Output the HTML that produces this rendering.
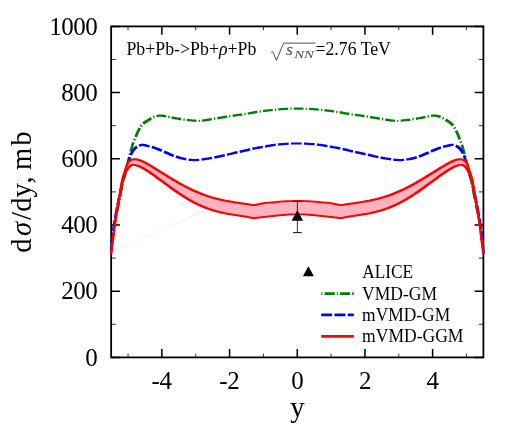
<!DOCTYPE html>
<html><head><meta charset="utf-8"><style>
html,body{margin:0;padding:0;background:#fff;}
svg{display:block;will-change:transform;font-family:"Liberation Serif",serif;}
</style></head><body>
<svg width="522" height="438" viewBox="0 0 522 438">
<rect width="522" height="438" fill="#fff"/>
<defs><clipPath id="c"><rect x="109.95" y="26.4" width="374.65" height="331.0"/></clipPath></defs>
<rect x="111.15" y="26.4" width="372.25" height="331.0" fill="none" stroke="#000" stroke-width="1.8"/>
<path d="M128.05,357.40 v-3.8 M128.05,26.40 v3.8" stroke="#000" stroke-width="0.8"/>
<path d="M161.89,357.40 v-8.3 M161.89,26.40 v8.3" stroke="#000" stroke-width="1.5"/>
<path d="M195.73,357.40 v-3.8 M195.73,26.40 v3.8" stroke="#000" stroke-width="0.8"/>
<path d="M229.57,357.40 v-8.3 M229.57,26.40 v8.3" stroke="#000" stroke-width="1.5"/>
<path d="M263.41,357.40 v-3.8 M263.41,26.40 v3.8" stroke="#000" stroke-width="0.8"/>
<path d="M297.25,357.40 v-8.3 M297.25,26.40 v8.3" stroke="#000" stroke-width="1.5"/>
<path d="M331.09,357.40 v-3.8 M331.09,26.40 v3.8" stroke="#000" stroke-width="0.8"/>
<path d="M364.93,357.40 v-8.3 M364.93,26.40 v8.3" stroke="#000" stroke-width="1.5"/>
<path d="M398.77,357.40 v-3.8 M398.77,26.40 v3.8" stroke="#000" stroke-width="0.8"/>
<path d="M432.61,357.40 v-8.3 M432.61,26.40 v8.3" stroke="#000" stroke-width="1.5"/>
<path d="M466.45,357.40 v-3.8 M466.45,26.40 v3.8" stroke="#000" stroke-width="0.8"/>
<path d="M111.15,357.40 h8.8 M483.40,357.40 h-8.8" stroke="#000" stroke-width="1.5"/>
<path d="M111.15,324.30 h4.6 M483.40,324.30 h-4.6" stroke="#000" stroke-width="0.8"/>
<path d="M111.15,291.20 h8.8 M483.40,291.20 h-8.8" stroke="#000" stroke-width="1.5"/>
<path d="M111.15,258.10 h4.6 M483.40,258.10 h-4.6" stroke="#000" stroke-width="0.8"/>
<path d="M111.15,225.00 h8.8 M483.40,225.00 h-8.8" stroke="#000" stroke-width="1.5"/>
<path d="M111.15,191.90 h4.6 M483.40,191.90 h-4.6" stroke="#000" stroke-width="0.8"/>
<path d="M111.15,158.80 h8.8 M483.40,158.80 h-8.8" stroke="#000" stroke-width="1.5"/>
<path d="M111.15,125.70 h4.6 M483.40,125.70 h-4.6" stroke="#000" stroke-width="0.8"/>
<path d="M111.15,92.60 h8.8 M483.40,92.60 h-8.8" stroke="#000" stroke-width="1.5"/>
<path d="M111.15,59.50 h4.6 M483.40,59.50 h-4.6" stroke="#000" stroke-width="0.8"/>
<path d="M111.15,26.40 h8.8 M483.40,26.40 h-8.8" stroke="#000" stroke-width="1.5"/>

<g clip-path="url(#c)" fill="none">
<path d="M111,252.5 L207,209.6" stroke="#ffd0d8" stroke-width="0.55" opacity="0.7"/>
<path d="M111.92,254.15 L112.09,252.88 L112.26,251.60 L112.43,250.32 L112.60,249.04 L112.77,247.76 L110.43,247.45 L110.26,248.73 L110.09,250.01 L109.92,251.29 L109.75,252.57 L109.58,253.85ZM113.05,245.61 L113.22,244.36 L110.88,244.05 L110.71,245.30ZM113.50,242.20 L113.66,240.99 L113.82,239.78 L113.98,238.56 L114.13,237.34 L114.28,236.12 L114.42,234.90 L114.56,233.68 L114.71,232.46 L112.39,232.19 L112.25,233.41 L112.10,234.62 L111.96,235.84 L111.80,237.05 L111.65,238.26 L111.48,239.47 L111.32,240.68 L111.16,241.90ZM114.98,230.32 L115.15,229.08 L112.81,228.76 L112.65,230.02ZM115.47,226.96 L115.66,225.76 L115.87,224.56 L116.08,223.36 L116.31,222.17 L116.54,220.97 L116.77,219.77 L117.00,218.57 L117.24,217.37 L114.82,216.89 L114.59,218.10 L114.35,219.30 L114.12,220.51 L113.90,221.72 L113.69,222.94 L113.48,224.15 L113.29,225.37 L113.10,226.60ZM117.67,215.25 L117.92,214.02 L115.50,213.52 L115.25,214.76ZM118.36,211.89 L118.60,210.69 L118.84,209.49 L119.08,208.29 L119.32,207.08 L119.56,205.88 L119.81,204.68 L120.05,203.48 L120.30,202.29 L117.87,201.79 L117.62,202.99 L117.38,204.19 L117.14,205.40 L116.90,206.60 L116.66,207.80 L116.42,209.00 L116.17,210.20 L115.93,211.40ZM120.73,200.16 L120.98,198.93 L118.56,198.43 L118.30,199.66ZM121.42,196.80 L121.66,195.60 L121.91,194.40 L122.15,193.20 L122.39,191.99 L122.63,190.79 L122.86,189.58 L123.09,188.37 L123.32,187.17 L120.91,186.71 L120.68,187.91 L120.44,189.11 L120.21,190.31 L119.97,191.51 L119.73,192.71 L119.48,193.90 L119.24,195.10 L118.99,196.30ZM123.73,185.04 L123.97,183.81 L121.55,183.33 L121.31,184.58ZM124.40,181.70 L124.67,180.52 L124.97,179.38 L125.32,178.27 L125.72,177.14 L126.09,175.92 L126.39,174.68 L126.66,173.46 L126.92,172.25 L124.48,171.72 L124.21,172.90 L123.92,174.06 L123.59,175.18 L123.20,176.29 L122.81,177.48 L122.49,178.73 L122.22,179.97 L121.97,181.19ZM127.37,170.11 L127.62,168.88 L125.19,168.37 L124.94,169.60ZM128.07,166.75 L128.32,165.56 L128.59,164.38 L128.87,163.20 L129.16,162.02 L129.47,160.86 L129.79,159.69 L130.11,158.50 L130.42,157.31 L127.94,156.66 L127.62,157.83 L127.30,159.01 L126.99,160.21 L126.69,161.41 L126.41,162.62 L126.14,163.83 L125.88,165.04 L125.63,166.24ZM130.97,155.21 L131.29,153.99 L128.81,153.34 L128.49,154.56ZM131.84,151.90 L132.17,150.73 L132.50,149.56 L132.84,148.40 L133.20,147.25 L133.58,146.11 L133.98,144.97 L134.39,143.84 L134.82,142.71 L132.29,141.75 L131.86,142.92 L131.46,144.09 L131.06,145.27 L130.69,146.46 L130.34,147.65 L130.00,148.85 L129.68,150.04 L129.36,151.23ZM135.61,140.71 L136.07,139.54 L133.54,138.53 L133.07,139.70ZM136.88,137.53 L137.34,136.41 L137.81,135.29 L138.29,134.18 L138.79,133.09 L139.31,132.02 L139.86,130.96 L140.42,129.89 L141.01,128.86 L138.52,127.44 L137.92,128.55 L137.34,129.66 L136.79,130.78 L136.26,131.93 L135.76,133.07 L135.28,134.22 L134.81,135.36 L134.35,136.51ZM142.10,127.13 L142.80,126.21 L140.49,124.37 L139.69,125.48ZM144.12,124.79 L144.96,124.07 L145.87,123.39 L146.85,122.73 L147.87,122.09 L148.91,121.44 L149.93,120.80 L150.96,120.18 L151.99,119.58 L150.61,117.08 L149.51,117.70 L148.43,118.33 L147.38,118.98 L146.34,119.63 L145.28,120.29 L144.21,120.98 L143.15,121.75 L142.11,122.60ZM153.81,118.60 L154.88,118.11 L153.89,115.58 L152.64,116.07ZM156.78,117.41 L157.87,117.10 L158.98,116.86 L160.11,116.70 L161.24,116.72 L162.37,116.89 L163.53,117.10 L164.70,117.33 L165.90,117.57 L166.37,115.16 L165.16,114.92 L163.93,114.72 L162.66,114.57 L161.35,114.52 L160.03,114.53 L158.72,114.55 L157.41,114.68 L156.11,114.92ZM168.03,117.97 L169.24,118.23 L169.76,115.79 L168.50,115.55ZM171.36,118.69 L172.57,118.94 L173.80,119.17 L175.02,119.38 L176.24,119.57 L177.46,119.76 L178.68,119.94 L179.89,120.13 L181.09,120.32 L181.47,117.94 L180.25,117.76 L179.04,117.58 L177.83,117.39 L176.63,117.19 L175.43,116.99 L174.25,116.76 L173.07,116.51 L171.89,116.25ZM183.20,120.70 L184.47,120.90 L184.85,118.52 L183.63,118.30ZM186.69,121.14 L187.93,121.25 L189.14,121.36 L190.36,121.48 L191.59,121.59 L192.82,121.69 L194.05,121.77 L195.30,121.83 L196.54,121.86 L196.61,119.70 L195.41,119.62 L194.21,119.54 L193.00,119.43 L191.79,119.32 L190.58,119.20 L189.36,119.09 L188.13,118.97 L186.93,118.85ZM198.76,121.87 L200.06,121.86 L199.96,119.67 L198.73,119.74ZM202.28,121.75 L203.53,121.64 L204.76,121.49 L205.99,121.33 L207.22,121.14 L208.44,120.95 L209.65,120.74 L210.86,120.53 L212.06,120.32 L211.65,117.93 L210.44,118.14 L209.23,118.35 L208.03,118.56 L206.83,118.77 L205.64,118.96 L204.44,119.15 L203.25,119.32 L202.06,119.47ZM214.19,119.95 L215.43,119.75 L215.05,117.37 L213.80,117.57ZM217.58,119.41 L218.79,119.21 L220.00,119.01 L221.21,118.80 L222.42,118.59 L223.62,118.39 L224.83,118.18 L226.03,117.98 L227.24,117.77 L226.85,115.39 L225.64,115.59 L224.43,115.79 L223.22,116.00 L222.01,116.20 L220.80,116.41 L219.59,116.62 L218.39,116.82 L217.18,117.03ZM229.37,117.43 L230.61,117.23 L230.25,114.87 L229.00,115.06ZM232.74,116.91 L233.95,116.74 L235.16,116.58 L236.38,116.41 L237.59,116.25 L238.80,116.09 L240.02,115.93 L241.24,115.77 L242.46,115.61 L242.13,113.26 L240.92,113.43 L239.71,113.59 L238.50,113.76 L237.28,113.92 L236.07,114.08 L234.85,114.24 L233.63,114.40 L232.41,114.56ZM244.62,115.30 L245.87,115.11 L245.49,112.73 L244.26,112.93ZM248.03,114.76 L249.25,114.55 L250.46,114.33 L251.66,114.11 L252.87,113.89 L254.07,113.67 L255.27,113.44 L256.47,113.23 L257.67,113.02 L257.27,110.63 L256.05,110.84 L254.84,111.05 L253.63,111.26 L252.42,111.48 L251.22,111.71 L250.02,111.93 L248.81,112.15 L247.62,112.37ZM259.79,112.67 L261.02,112.48 L260.70,110.14 L259.44,110.31ZM263.16,112.19 L264.37,112.03 L265.58,111.88 L266.79,111.74 L268.00,111.60 L269.22,111.47 L270.43,111.34 L271.65,111.22 L272.86,111.09 L272.64,108.81 L271.42,108.93 L270.20,109.05 L268.97,109.17 L267.75,109.30 L266.53,109.43 L265.31,109.57 L264.08,109.71 L262.86,109.86ZM275.02,110.88 L276.27,110.76 L276.06,108.48 L274.80,108.60ZM278.43,110.55 L279.64,110.44 L280.86,110.34 L282.07,110.24 L283.29,110.15 L284.50,110.06 L285.72,109.98 L286.93,109.91 L288.15,109.84 L288.06,107.66 L286.82,107.71 L285.59,107.77 L284.36,107.83 L283.13,107.91 L281.90,107.99 L280.68,108.08 L279.45,108.18 L278.22,108.28ZM290.30,109.75 L291.55,109.72 L291.51,107.57 L290.24,107.60ZM293.71,109.67 L294.93,109.66 L296.15,109.65 L297.37,109.65 L298.60,109.65 L299.82,109.66 L301.04,109.68 L302.26,109.70 L303.48,109.73 L303.52,107.58 L302.29,107.56 L301.06,107.55 L299.83,107.55 L298.60,107.55 L297.38,107.55 L296.15,107.55 L294.92,107.55 L293.69,107.55ZM305.63,109.81 L306.88,109.87 L306.98,107.68 L305.71,107.63ZM309.03,109.99 L310.25,110.08 L311.46,110.16 L312.68,110.26 L313.89,110.36 L315.11,110.46 L316.32,110.58 L317.54,110.69 L318.75,110.81 L318.97,108.53 L317.75,108.41 L316.53,108.30 L315.30,108.20 L314.07,108.10 L312.85,108.01 L311.62,107.93 L310.39,107.85 L309.16,107.78ZM320.91,111.02 L322.16,111.15 L322.39,108.86 L321.13,108.74ZM324.32,111.37 L325.53,111.50 L326.75,111.63 L327.96,111.77 L329.17,111.91 L330.38,112.06 L331.59,112.22 L332.79,112.38 L334.00,112.56 L334.33,110.21 L333.11,110.04 L331.89,109.89 L330.66,109.74 L329.44,109.60 L328.22,109.46 L327.00,109.33 L325.78,109.20 L324.55,109.07ZM336.12,112.90 L337.35,113.11 L337.76,110.72 L336.50,110.52ZM339.47,113.49 L340.68,113.71 L341.88,113.93 L343.08,114.16 L344.29,114.38 L345.50,114.59 L346.72,114.80 L347.93,115.00 L349.15,115.19 L349.53,112.82 L348.33,112.62 L347.13,112.41 L345.93,112.19 L344.73,111.97 L343.53,111.75 L342.32,111.53 L341.12,111.31 L339.91,111.09ZM351.32,115.50 L352.57,115.68 L352.90,113.33 L351.66,113.15ZM354.73,115.97 L355.94,116.13 L357.16,116.29 L358.37,116.45 L359.58,116.61 L360.79,116.78 L362.00,116.95 L363.21,117.13 L364.41,117.31 L364.77,114.95 L363.55,114.77 L362.33,114.60 L361.12,114.43 L359.90,114.27 L358.68,114.11 L357.47,113.95 L356.25,113.79 L355.04,113.63ZM366.54,117.66 L367.78,117.86 L368.18,115.48 L366.93,115.28ZM369.92,118.22 L371.12,118.43 L372.33,118.64 L373.54,118.84 L374.75,119.05 L375.96,119.25 L377.17,119.45 L378.38,119.64 L379.59,119.83 L379.98,117.46 L378.77,117.26 L377.56,117.07 L376.36,116.86 L375.15,116.66 L373.95,116.45 L372.74,116.25 L371.53,116.04 L370.32,115.84ZM381.72,120.20 L382.96,120.41 L383.38,118.02 L382.13,117.81ZM385.10,120.79 L386.31,120.99 L387.53,121.18 L388.76,121.36 L389.99,121.52 L391.23,121.66 L392.47,121.77 L393.73,121.84 L394.99,121.86 L395.05,119.70 L393.87,119.62 L392.68,119.50 L391.49,119.35 L390.30,119.18 L389.11,119.00 L387.91,118.81 L386.71,118.60 L385.51,118.39ZM397.21,121.86 L398.50,121.85 L398.41,119.67 L397.17,119.73ZM400.70,121.76 L401.93,121.67 L403.16,121.57 L404.39,121.46 L405.61,121.34 L406.82,121.23 L408.07,121.12 L409.32,120.99 L410.56,120.82 L410.16,118.43 L408.99,118.64 L407.81,118.81 L406.61,118.95 L405.39,119.06 L404.17,119.18 L402.96,119.30 L401.75,119.41 L400.54,119.52ZM412.70,120.44 L413.93,120.23 L413.56,117.86 L412.30,118.05ZM416.07,119.90 L417.29,119.72 L418.51,119.53 L419.73,119.34 L420.95,119.13 L422.18,118.89 L423.39,118.64 L424.58,118.38 L425.77,118.12 L425.27,115.69 L424.05,115.94 L422.86,116.20 L421.67,116.46 L420.49,116.71 L419.31,116.94 L418.11,117.15 L416.91,117.35 L415.71,117.54ZM427.87,117.70 L429.12,117.47 L428.65,115.05 L427.42,115.30ZM431.21,117.06 L432.36,116.85 L433.49,116.69 L434.62,116.73 L435.75,116.90 L436.85,117.15 L437.94,117.48 L439.02,117.87 L440.07,118.31 L441.14,115.78 L439.91,115.34 L438.65,114.98 L437.36,114.72 L436.05,114.57 L434.74,114.52 L433.42,114.53 L432.11,114.55 L430.83,114.68ZM441.90,119.24 L442.96,119.83 L444.37,117.34 L443.22,116.73ZM444.77,120.93 L445.80,121.57 L446.84,122.22 L447.86,122.86 L448.82,123.52 L449.72,124.21 L450.55,124.94 L451.30,125.73 L452.00,126.58 L454.36,124.83 L453.53,123.78 L452.59,122.79 L451.57,121.91 L450.51,121.13 L449.44,120.43 L448.38,119.76 L447.34,119.12 L446.29,118.47ZM453.14,128.26 L453.75,129.30 L456.25,127.92 L455.61,126.78ZM454.76,131.18 L455.30,132.23 L455.81,133.31 L456.31,134.41 L456.78,135.52 L457.25,136.63 L457.71,137.76 L458.17,138.90 L458.62,140.03 L461.16,139.02 L460.70,137.88 L460.25,136.74 L459.79,135.60 L459.32,134.45 L458.84,133.31 L458.34,132.16 L457.82,131.02 L457.27,129.88ZM459.42,142.03 L459.87,143.19 L462.40,142.25 L461.95,141.06ZM460.60,145.20 L461.00,146.34 L461.37,147.48 L461.73,148.63 L462.07,149.79 L462.40,150.96 L462.72,152.14 L463.04,153.32 L463.35,154.50 L465.82,153.86 L465.52,152.67 L465.20,151.48 L464.89,150.29 L464.57,149.09 L464.23,147.90 L463.88,146.70 L463.51,145.51 L463.13,144.33ZM463.89,156.60 L464.21,157.83 L466.69,157.16 L466.37,155.95ZM464.78,159.93 L465.10,161.10 L465.40,162.26 L465.69,163.44 L465.97,164.62 L466.23,165.81 L466.48,167.00 L466.74,168.20 L466.98,169.40 L469.42,168.89 L469.17,167.69 L468.92,166.49 L468.67,165.29 L468.41,164.08 L468.15,162.87 L467.87,161.66 L467.58,160.45 L467.26,159.25ZM467.43,171.53 L467.69,172.77 L470.13,172.23 L469.86,171.01ZM468.17,174.93 L468.48,176.18 L468.86,177.38 L469.25,178.50 L469.60,179.61 L469.89,180.76 L470.15,181.94 L470.40,183.13 L470.64,184.33 L473.05,183.86 L472.82,182.65 L472.58,181.44 L472.33,180.22 L472.07,178.99 L471.76,177.74 L471.38,176.52 L470.99,175.40 L470.64,174.29ZM471.05,186.45 L471.28,187.69 L473.69,187.23 L473.46,185.99ZM471.69,189.82 L471.92,191.03 L472.16,192.24 L472.40,193.44 L472.64,194.64 L472.89,195.84 L473.13,197.05 L473.38,198.25 L473.62,199.45 L476.05,198.95 L475.81,197.75 L475.56,196.55 L475.31,195.35 L475.07,194.15 L474.82,192.95 L474.58,191.75 L474.34,190.56 L474.10,189.36ZM474.06,201.57 L474.31,202.80 L476.74,202.31 L476.49,201.07ZM474.74,204.93 L474.98,206.13 L475.23,207.33 L475.47,208.53 L475.71,209.73 L475.95,210.94 L476.19,212.14 L476.44,213.34 L476.68,214.54 L479.11,214.04 L478.87,212.84 L478.62,211.64 L478.38,210.44 L478.13,209.24 L477.89,208.04 L477.65,206.84 L477.41,205.64 L477.17,204.44ZM477.11,216.66 L477.36,217.89 L479.78,217.41 L479.54,216.17ZM477.78,220.01 L478.01,221.21 L478.24,222.41 L478.46,223.61 L478.67,224.80 L478.88,226.00 L479.07,227.20 L479.25,228.40 L479.42,229.60 L481.76,229.29 L481.60,228.07 L481.43,226.85 L481.25,225.62 L481.06,224.40 L480.86,223.18 L480.64,221.97 L480.42,220.76 L480.20,219.55ZM479.70,231.74 L479.86,232.99 L482.17,232.72 L482.02,231.46ZM480.11,235.15 L480.25,236.37 L480.40,237.59 L480.55,238.81 L480.71,240.02 L480.87,241.24 L481.03,242.45 L481.19,243.67 L481.35,244.88 L483.69,244.57 L483.53,243.36 L483.37,242.14 L483.21,240.93 L483.05,239.71 L482.89,238.50 L482.73,237.29 L482.57,236.08 L482.43,234.87ZM481.64,247.03 L481.80,248.28 L484.14,247.97 L483.98,246.72ZM482.09,250.43 L482.25,251.67 L482.42,252.91 L482.58,254.15 L484.92,253.85 L484.75,252.60 L484.59,251.36 L484.43,250.12Z" fill="#008000" stroke="none"/>
<path d="M111.41,254.15 L111.56,253.00 L111.70,251.86 L111.85,250.72 L111.99,249.58 L112.13,248.44 L112.28,247.29 L112.42,246.15 L110.09,245.86 L109.95,247.00 L109.81,248.14 L109.66,249.28 L109.52,250.43 L109.37,251.57 L109.23,252.71 L109.09,253.85ZM112.71,243.87 L112.86,242.69 L113.00,241.51 L113.15,240.33 L113.30,239.15 L113.44,237.97 L113.58,236.78 L113.72,235.60 L113.85,234.41 L113.98,233.23 L111.67,232.97 L111.54,234.15 L111.41,235.33 L111.27,236.51 L111.12,237.68 L110.97,238.86 L110.83,240.04 L110.68,241.22 L110.53,242.40 L110.38,243.58ZM114.25,230.95 L114.39,229.78 L114.55,228.61 L114.71,227.44 L114.88,226.27 L115.06,225.10 L115.25,223.94 L115.44,222.77 L115.64,221.60 L115.84,220.43 L113.45,220.03 L113.26,221.20 L113.07,222.38 L112.88,223.56 L112.70,224.74 L112.53,225.93 L112.37,227.12 L112.22,228.30 L112.07,229.49 L111.93,230.68ZM116.24,218.17 L116.45,217.01 L116.66,215.84 L116.87,214.67 L117.09,213.51 L117.31,212.34 L117.53,211.17 L117.75,210.01 L117.97,208.84 L118.20,207.68 L115.78,207.21 L115.56,208.38 L115.34,209.55 L115.12,210.72 L114.90,211.89 L114.68,213.06 L114.47,214.23 L114.26,215.41 L114.05,216.58 L113.84,217.75ZM118.66,205.44 L118.90,204.28 L119.15,203.12 L119.40,201.96 L119.65,200.80 L119.91,199.64 L120.16,198.48 L120.42,197.32 L120.67,196.16 L120.92,194.99 L118.48,194.47 L118.23,195.63 L117.97,196.78 L117.72,197.95 L117.46,199.11 L117.21,200.27 L116.96,201.44 L116.71,202.60 L116.47,203.77 L116.23,204.94ZM121.39,192.73 L121.63,191.56 L121.85,190.38 L122.07,189.20 L122.28,188.03 L122.49,186.86 L122.70,185.69 L122.92,184.52 L123.14,183.36 L123.38,182.21 L120.95,181.72 L120.73,182.90 L120.51,184.08 L120.30,185.25 L120.09,186.42 L119.88,187.59 L119.66,188.76 L119.44,189.92 L119.20,191.07 L118.96,192.23ZM123.91,180.04 L124.25,178.98 L124.66,177.95 L125.12,176.90 L125.58,175.76 L125.98,174.59 L126.36,173.45 L126.74,172.32 L127.12,171.19 L127.50,170.06 L124.98,169.22 L124.60,170.35 L124.22,171.47 L123.84,172.60 L123.45,173.71 L123.04,174.77 L122.59,175.82 L122.12,176.96 L121.74,178.18 L121.43,179.40ZM128.22,167.87 L128.58,166.73 L128.94,165.59 L129.28,164.43 L129.60,163.25 L129.89,162.07 L130.16,160.91 L130.46,159.78 L130.79,158.66 L131.12,157.55 L128.61,156.78 L128.29,157.95 L127.98,159.12 L127.70,160.31 L127.42,161.46 L127.11,162.58 L126.78,163.69 L126.43,164.80 L126.07,165.92 L125.70,167.05ZM131.96,155.61 L132.47,154.58 L133.01,153.55 L133.57,152.55 L134.15,151.60 L134.78,150.72 L135.45,149.91 L136.17,149.18 L136.96,148.53 L137.84,147.93 L136.38,145.46 L135.26,146.14 L134.19,146.97 L133.24,147.93 L132.42,148.97 L131.70,150.06 L131.08,151.14 L130.50,152.23 L129.95,153.32 L129.43,154.44ZM139.70,146.91 L140.65,146.48 L141.60,146.14 L142.57,145.98 L143.58,146.22 L144.65,146.51 L145.78,146.82 L146.96,147.10 L148.12,147.36 L149.27,147.64 L149.87,145.18 L148.70,144.91 L147.55,144.63 L146.42,144.34 L145.25,144.05 L143.99,143.83 L142.64,143.81 L141.25,143.78 L139.89,143.97 L138.61,144.38ZM151.45,148.23 L152.57,148.56 L153.67,148.92 L154.75,149.31 L155.82,149.73 L156.90,150.17 L157.98,150.63 L159.07,151.09 L160.17,151.55 L161.25,152.02 L162.35,149.49 L161.24,149.02 L160.14,148.56 L159.05,148.10 L157.94,147.64 L156.81,147.20 L155.65,146.78 L154.48,146.40 L153.31,146.06 L152.14,145.74ZM163.35,152.94 L164.44,153.42 L165.53,153.90 L166.63,154.37 L167.73,154.84 L168.82,155.30 L169.92,155.77 L171.03,156.23 L172.15,156.68 L173.29,157.10 L174.24,154.57 L173.15,154.14 L172.07,153.70 L170.99,153.24 L169.90,152.77 L168.81,152.30 L167.72,151.84 L166.63,151.37 L165.55,150.89 L164.46,150.41ZM175.49,157.88 L176.63,158.26 L177.79,158.62 L178.95,158.96 L180.13,159.28 L181.31,159.56 L182.50,159.82 L183.70,160.05 L184.89,160.26 L186.09,160.45 L186.47,158.07 L185.32,157.86 L184.18,157.63 L183.04,157.37 L181.92,157.09 L180.80,156.79 L179.69,156.46 L178.58,156.11 L177.47,155.74 L176.36,155.35ZM188.40,160.76 L189.59,160.90 L190.80,161.02 L192.01,161.11 L193.23,161.16 L194.46,161.16 L195.69,161.16 L196.92,161.15 L198.14,161.09 L199.35,160.98 L199.08,158.66 L197.93,158.81 L196.78,158.94 L195.64,159.02 L194.49,159.03 L193.34,158.96 L192.19,158.86 L191.03,158.73 L189.88,158.58 L188.71,158.42ZM201.65,160.70 L202.84,160.54 L204.02,160.38 L205.20,160.21 L206.38,160.04 L207.56,159.87 L208.74,159.69 L209.93,159.51 L211.11,159.32 L212.29,159.12 L211.87,156.72 L210.70,156.93 L209.54,157.13 L208.37,157.32 L207.20,157.50 L206.03,157.68 L204.86,157.86 L203.69,158.03 L202.52,158.20 L201.34,158.36ZM214.57,158.71 L215.75,158.49 L216.92,158.26 L218.10,158.01 L219.27,157.76 L220.43,157.50 L221.60,157.23 L222.76,156.96 L223.92,156.69 L225.07,156.42 L224.49,153.96 L223.34,154.23 L222.18,154.51 L221.03,154.78 L219.87,155.04 L218.72,155.31 L217.57,155.57 L216.41,155.82 L215.26,156.07 L214.11,156.30ZM227.31,155.89 L228.46,155.62 L229.62,155.35 L230.77,155.09 L231.93,154.83 L233.09,154.57 L234.25,154.32 L235.41,154.06 L236.57,153.81 L237.73,153.55 L237.20,151.11 L236.04,151.36 L234.87,151.62 L233.71,151.87 L232.55,152.13 L231.39,152.39 L230.23,152.64 L229.06,152.90 L227.90,153.17 L226.74,153.43ZM239.98,153.06 L241.14,152.80 L242.31,152.55 L243.47,152.29 L244.63,152.03 L245.80,151.76 L246.97,151.49 L248.14,151.20 L249.30,150.90 L250.44,150.59 L249.80,148.12 L248.64,148.42 L247.50,148.72 L246.36,149.02 L245.22,149.30 L244.07,149.58 L242.92,149.84 L241.76,150.10 L240.60,150.36 L239.44,150.62ZM252.62,150.04 L253.76,149.79 L254.91,149.55 L256.07,149.33 L257.23,149.12 L258.40,148.92 L259.57,148.73 L260.74,148.53 L261.92,148.33 L263.10,148.13 L262.67,145.73 L261.51,145.94 L260.34,146.14 L259.17,146.34 L258.00,146.54 L256.82,146.73 L255.64,146.93 L254.46,147.14 L253.27,147.36 L252.09,147.60ZM265.37,147.72 L266.54,147.50 L267.71,147.28 L268.87,147.06 L270.04,146.84 L271.20,146.63 L272.36,146.43 L273.52,146.25 L274.67,146.07 L275.84,145.91 L275.56,143.59 L274.37,143.73 L273.17,143.89 L271.98,144.06 L270.79,144.25 L269.61,144.45 L268.43,144.65 L267.26,144.87 L266.09,145.09 L264.92,145.31ZM278.10,145.65 L279.28,145.53 L280.45,145.41 L281.63,145.31 L282.81,145.21 L283.99,145.12 L285.17,145.03 L286.35,144.95 L287.54,144.87 L288.72,144.79 L288.59,142.57 L287.40,142.64 L286.21,142.72 L285.02,142.79 L283.83,142.88 L282.64,142.96 L281.45,143.05 L280.25,143.15 L279.06,143.25 L277.87,143.36ZM291.00,144.65 L292.17,144.60 L293.35,144.55 L294.53,144.52 L295.71,144.51 L296.89,144.50 L298.08,144.50 L299.26,144.51 L300.44,144.53 L301.62,144.57 L301.68,142.42 L300.48,142.40 L299.28,142.40 L298.08,142.40 L296.89,142.40 L295.70,142.40 L294.50,142.40 L293.30,142.41 L292.10,142.43 L290.90,142.47ZM303.90,144.67 L305.07,144.74 L306.25,144.82 L307.43,144.90 L308.62,144.98 L309.80,145.06 L310.98,145.15 L312.16,145.25 L313.34,145.35 L314.52,145.46 L314.72,143.19 L313.53,143.09 L312.34,143.00 L311.15,142.91 L309.96,142.83 L308.77,142.75 L307.58,142.67 L306.39,142.60 L305.20,142.53 L304.00,142.48ZM316.79,145.69 L317.96,145.82 L319.13,145.97 L320.29,146.14 L321.45,146.32 L322.61,146.51 L323.77,146.72 L324.93,146.93 L326.09,147.15 L327.26,147.37 L327.71,144.96 L326.54,144.74 L325.36,144.53 L324.18,144.33 L323.00,144.13 L321.81,143.95 L320.61,143.79 L319.42,143.65 L318.22,143.52 L317.03,143.39ZM329.52,147.79 L330.69,148.01 L331.87,148.21 L333.05,148.41 L334.22,148.61 L335.40,148.80 L336.57,149.00 L337.73,149.21 L338.89,149.42 L340.05,149.64 L340.51,147.23 L339.33,147.02 L338.15,146.81 L336.97,146.62 L335.80,146.42 L334.63,146.22 L333.46,146.02 L332.29,145.82 L331.13,145.60 L329.97,145.38ZM342.26,150.13 L343.38,150.41 L344.52,150.71 L345.66,151.02 L346.83,151.32 L347.99,151.60 L349.17,151.87 L350.33,152.13 L351.50,152.39 L352.66,152.65 L353.20,150.20 L352.04,149.95 L350.89,149.68 L349.74,149.41 L348.59,149.13 L347.46,148.84 L346.32,148.54 L345.17,148.23 L344.00,147.94 L342.81,147.68ZM354.91,153.15 L356.07,153.40 L357.23,153.65 L358.39,153.91 L359.55,154.16 L360.71,154.42 L361.87,154.68 L363.03,154.93 L364.19,155.19 L365.34,155.46 L365.90,153.01 L364.74,152.75 L363.58,152.49 L362.41,152.23 L361.25,151.98 L360.09,151.72 L358.93,151.47 L357.77,151.21 L356.61,150.96 L355.44,150.70ZM367.58,155.98 L368.73,156.25 L369.89,156.53 L371.05,156.80 L372.21,157.07 L373.37,157.34 L374.53,157.60 L375.70,157.86 L376.87,158.11 L378.04,158.35 L378.55,155.92 L377.39,155.67 L376.24,155.41 L375.09,155.15 L373.93,154.88 L372.78,154.61 L371.63,154.34 L370.47,154.07 L369.31,153.79 L368.15,153.52ZM380.33,158.78 L381.51,159.00 L382.68,159.20 L383.87,159.39 L385.05,159.58 L386.23,159.76 L387.41,159.94 L388.59,160.11 L389.77,160.28 L390.95,160.44 L391.28,158.10 L390.11,157.93 L388.94,157.75 L387.76,157.58 L386.60,157.39 L385.43,157.21 L384.26,157.01 L383.10,156.81 L381.94,156.60 L380.78,156.38ZM393.24,160.75 L394.43,160.90 L395.63,161.03 L396.84,161.12 L398.08,161.16 L399.30,161.16 L400.53,161.17 L401.76,161.14 L402.98,161.08 L404.19,160.98 L403.93,158.67 L402.77,158.81 L401.62,158.93 L400.47,159.01 L399.32,159.04 L398.17,158.97 L397.03,158.86 L395.88,158.72 L394.72,158.57 L393.55,158.41ZM406.50,160.71 L407.69,160.55 L408.89,160.37 L410.08,160.18 L411.28,159.96 L412.47,159.72 L413.66,159.45 L414.84,159.15 L416.01,158.83 L417.17,158.48 L416.37,155.96 L415.26,156.32 L414.14,156.66 L413.03,156.98 L411.91,157.27 L410.78,157.53 L409.64,157.77 L408.49,157.99 L407.34,158.19 L406.18,158.36ZM419.39,157.75 L420.53,157.35 L421.67,156.93 L422.80,156.50 L423.92,156.05 L425.02,155.59 L426.12,155.12 L427.21,154.65 L428.31,154.18 L429.41,153.71 L428.30,151.18 L427.22,151.65 L426.13,152.12 L425.03,152.58 L423.94,153.05 L422.86,153.51 L421.78,153.97 L420.70,154.40 L419.61,154.82 L418.50,155.22ZM431.52,152.78 L432.60,152.30 L433.68,151.83 L434.77,151.37 L435.86,150.91 L436.95,150.45 L438.03,149.99 L439.11,149.56 L440.18,149.15 L441.27,148.77 L440.48,146.26 L439.31,146.63 L438.15,147.03 L437.01,147.46 L435.89,147.91 L434.79,148.37 L433.70,148.84 L432.60,149.30 L431.49,149.77 L430.40,150.25ZM443.42,148.12 L444.55,147.82 L445.69,147.53 L446.84,147.25 L448.01,146.99 L449.18,146.69 L450.28,146.39 L451.33,146.12 L452.32,145.98 L453.28,146.26 L453.81,143.83 L452.41,143.80 L451.04,143.79 L449.74,143.94 L448.54,144.22 L447.40,144.52 L446.26,144.80 L445.10,145.07 L443.93,145.35 L442.75,145.64ZM455.13,147.07 L456.09,147.59 L457.02,148.16 L457.86,148.78 L458.62,149.46 L459.33,150.22 L459.98,151.06 L460.59,151.97 L461.16,152.95 L461.71,153.96 L464.23,152.67 L463.66,151.58 L463.06,150.49 L462.38,149.40 L461.60,148.34 L460.70,147.35 L459.68,146.46 L458.57,145.72 L457.45,145.09 L456.29,144.54ZM462.71,155.94 L463.15,156.93 L463.51,157.98 L463.84,159.12 L464.16,160.23 L464.45,161.37 L464.73,162.54 L465.03,163.72 L465.35,164.89 L465.70,166.04 L468.21,165.25 L467.86,164.13 L467.52,163.02 L467.20,161.91 L466.91,160.77 L466.64,159.60 L466.34,158.41 L466.01,157.26 L465.68,156.04 L465.24,154.82ZM466.41,168.25 L466.78,169.38 L467.15,170.51 L467.53,171.64 L467.91,172.77 L468.29,173.90 L468.68,175.05 L469.10,176.23 L469.57,177.33 L470.01,178.36 L472.54,177.45 L472.10,176.26 L471.64,175.19 L471.21,174.14 L470.81,173.04 L470.43,171.92 L470.05,170.80 L469.67,169.67 L469.30,168.55 L468.92,167.42ZM470.69,180.41 L470.97,181.53 L471.22,182.67 L471.45,183.83 L471.67,184.99 L471.88,186.15 L472.09,187.32 L472.30,188.50 L472.52,189.67 L472.74,190.85 L475.15,190.38 L474.93,189.22 L474.71,188.06 L474.49,186.89 L474.28,185.72 L474.07,184.55 L473.86,183.37 L473.64,182.19 L473.41,181.00 L473.16,179.80ZM473.19,193.12 L473.43,194.29 L473.68,195.46 L473.93,196.62 L474.18,197.79 L474.44,198.95 L474.70,200.11 L474.95,201.27 L475.20,202.42 L475.45,203.58 L477.89,203.07 L477.64,201.90 L477.39,200.74 L477.14,199.57 L476.88,198.41 L476.63,197.25 L476.37,196.09 L476.12,194.93 L475.87,193.77 L475.62,192.61ZM475.92,205.82 L476.16,206.98 L476.39,208.14 L476.62,209.31 L476.84,210.47 L477.06,211.64 L477.28,212.81 L477.50,213.97 L477.71,215.14 L477.93,216.31 L480.33,215.87 L480.12,214.70 L479.90,213.53 L479.69,212.36 L479.47,211.19 L479.25,210.02 L479.03,208.85 L478.81,207.68 L478.58,206.50 L478.35,205.33ZM478.33,218.56 L478.54,219.73 L478.74,220.90 L478.94,222.07 L479.13,223.24 L479.32,224.40 L479.51,225.57 L479.69,226.74 L479.86,227.90 L480.01,229.07 L482.34,228.78 L482.20,227.59 L482.04,226.40 L481.87,225.22 L481.69,224.03 L481.51,222.85 L481.32,221.67 L481.13,220.50 L480.93,219.32 L480.73,218.15ZM480.30,231.34 L480.44,232.52 L480.57,233.70 L480.70,234.88 L480.84,236.07 L480.97,237.25 L481.11,238.44 L481.26,239.62 L481.41,240.80 L481.55,241.98 L483.88,241.69 L483.73,240.51 L483.59,239.33 L483.44,238.15 L483.29,236.98 L483.15,235.80 L483.01,234.62 L482.88,233.44 L482.75,232.26 L482.61,231.07ZM481.84,244.26 L482.00,245.50 L482.15,246.73 L482.31,247.97 L482.46,249.21 L482.62,250.44 L482.77,251.68 L482.93,252.91 L483.09,254.15 L485.41,253.85 L485.26,252.62 L485.10,251.38 L484.95,250.15 L484.79,248.91 L484.64,247.68 L484.48,246.44 L484.32,245.21 L484.17,243.97Z" fill="#0000ff" stroke="none"/>
<path d="M110.85,254.00 C111.19,251.42 112.28,243.37 112.90,238.50 C113.53,233.63 113.88,229.98 114.60,224.80 C115.32,219.62 116.36,212.88 117.25,207.40 C118.14,201.92 119.13,196.47 119.95,191.90 C120.77,187.33 121.50,182.95 122.15,180.00 C122.80,177.05 123.01,176.80 123.85,174.20 C124.69,171.60 126.17,166.67 127.20,164.40 C128.22,162.13 128.80,161.47 130.00,160.60 C131.20,159.73 132.73,159.23 134.40,159.20 C136.07,159.17 138.00,159.70 140.00,160.40 C142.00,161.10 144.33,162.31 146.40,163.40 C148.47,164.49 150.40,165.72 152.40,166.92 C154.40,168.12 156.40,169.36 158.40,170.60 C160.40,171.84 162.40,173.09 164.40,174.33 C166.40,175.57 168.40,176.82 170.40,178.03 C172.40,179.24 174.40,180.44 176.40,181.60 C178.40,182.76 180.40,183.89 182.40,184.97 C184.40,186.05 186.40,187.10 188.40,188.10 C190.40,189.10 192.40,190.05 194.40,190.95 C196.40,191.85 198.40,192.69 200.40,193.48 C202.40,194.27 204.40,195.00 206.40,195.69 C208.40,196.38 210.40,197.01 212.40,197.59 C214.40,198.17 216.40,198.69 218.40,199.18 C220.40,199.67 222.40,200.10 224.40,200.51 C226.40,200.92 228.40,201.28 230.40,201.62 C232.40,201.97 234.40,202.27 236.40,202.58 C238.40,202.89 240.40,203.17 242.40,203.46 C244.40,203.75 246.53,204.05 248.40,204.34 C250.27,204.63 252.73,205.06 253.60,205.20 C255.53,204.83 262.13,203.45 265.20,203.00 C268.27,202.55 269.48,202.73 272.00,202.50 C274.52,202.27 277.30,201.83 280.30,201.60 C283.30,201.37 287.18,201.20 290.00,201.10 C292.82,201.00 294.83,201.00 297.25,201.00 C299.67,201.00 301.68,201.00 304.50,201.10 C307.32,201.20 311.20,201.37 314.20,201.60 C317.20,201.83 319.98,202.27 322.50,202.50 C325.02,202.73 326.23,202.55 329.30,203.00 C332.37,203.45 338.97,204.83 340.90,205.20 C341.77,205.06 344.23,204.63 346.10,204.34 C347.97,204.05 350.10,203.75 352.10,203.46 C354.10,203.17 356.10,202.89 358.10,202.58 C360.10,202.27 362.10,201.97 364.10,201.62 C366.10,201.28 368.10,200.92 370.10,200.51 C372.10,200.10 374.10,199.67 376.10,199.18 C378.10,198.69 380.10,198.17 382.10,197.59 C384.10,197.01 386.10,196.38 388.10,195.69 C390.10,195.00 392.10,194.27 394.10,193.48 C396.10,192.69 398.10,191.85 400.10,190.95 C402.10,190.05 404.10,189.10 406.10,188.10 C408.10,187.10 410.10,186.05 412.10,184.97 C414.10,183.89 416.10,182.76 418.10,181.60 C420.10,180.44 422.10,179.24 424.10,178.03 C426.10,176.82 428.10,175.57 430.10,174.33 C432.10,173.09 434.10,171.84 436.10,170.60 C438.10,169.36 440.10,168.12 442.10,166.92 C444.10,165.72 446.03,164.49 448.10,163.40 C450.17,162.31 452.50,161.10 454.50,160.40 C456.50,159.70 458.43,159.17 460.10,159.20 C461.77,159.23 463.30,159.73 464.50,160.60 C465.70,161.47 466.28,162.13 467.30,164.40 C468.32,166.67 469.81,171.60 470.65,174.20 C471.49,176.80 471.70,177.05 472.35,180.00 C473.00,182.95 473.73,187.33 474.55,191.90 C475.37,196.47 476.36,201.92 477.25,207.40 C478.14,212.88 479.17,219.62 479.90,224.80 C480.62,229.98 480.98,233.63 481.60,238.50 C482.23,243.37 483.31,251.42 483.65,254.00 L483.25,254.00 C482.91,251.42 481.82,243.37 481.20,238.50 C480.57,233.63 480.24,229.98 479.50,224.80 C478.76,219.62 477.69,212.88 476.75,207.40 C475.81,201.92 474.73,196.47 473.85,191.90 C472.97,187.33 472.13,182.95 471.45,180.00 C470.77,177.05 470.56,176.10 469.75,174.20 C468.94,172.30 467.46,169.93 466.60,168.60 C465.74,167.27 465.38,166.82 464.60,166.20 C463.82,165.58 462.92,165.05 461.90,164.90 C460.88,164.75 459.73,165.00 458.50,165.30 C457.27,165.60 455.93,166.07 454.50,166.70 C453.07,167.33 451.67,168.04 449.90,169.10 C448.13,170.16 445.90,171.67 443.90,173.03 C441.90,174.39 439.90,175.84 437.90,177.28 C435.90,178.72 433.90,180.23 431.90,181.70 C429.90,183.17 427.90,184.67 425.90,186.12 C423.90,187.57 421.90,189.02 419.90,190.42 C417.90,191.82 415.90,193.19 413.90,194.50 C411.90,195.81 409.90,197.09 407.90,198.29 C405.90,199.49 403.90,200.64 401.90,201.71 C399.90,202.78 397.90,203.79 395.90,204.73 C393.90,205.67 391.90,206.53 389.90,207.33 C387.90,208.13 385.90,208.86 383.90,209.52 C381.90,210.19 379.90,210.78 377.90,211.32 C375.90,211.86 373.90,212.33 371.90,212.77 C369.90,213.21 367.90,213.59 365.90,213.95 C363.90,214.31 361.90,214.62 359.90,214.94 C357.90,215.26 355.90,215.54 353.90,215.86 C351.90,216.18 350.07,216.44 347.90,216.84 C345.73,217.24 342.07,218.01 340.90,218.25 C338.97,217.97 332.37,217.15 329.30,216.80 C326.23,216.45 325.02,216.37 322.50,216.10 C319.98,215.83 317.20,215.47 314.20,215.20 C311.20,214.93 307.32,214.63 304.50,214.50 C301.68,214.37 299.67,214.40 297.25,214.40 C294.83,214.40 292.82,214.37 290.00,214.50 C287.18,214.63 283.30,214.93 280.30,215.20 C277.30,215.47 274.52,215.83 272.00,216.10 C269.48,216.37 268.27,216.45 265.20,216.80 C262.13,217.15 255.53,217.97 253.60,218.20 C252.43,218.01 248.77,217.24 246.60,216.84 C244.43,216.44 242.60,216.18 240.60,215.86 C238.60,215.54 236.60,215.26 234.60,214.94 C232.60,214.62 230.60,214.31 228.60,213.95 C226.60,213.59 224.60,213.21 222.60,212.77 C220.60,212.33 218.60,211.86 216.60,211.32 C214.60,210.78 212.60,210.19 210.60,209.52 C208.60,208.86 206.60,208.13 204.60,207.33 C202.60,206.53 200.60,205.67 198.60,204.73 C196.60,203.79 194.60,202.78 192.60,201.71 C190.60,200.64 188.60,199.49 186.60,198.29 C184.60,197.09 182.60,195.81 180.60,194.50 C178.60,193.19 176.60,191.82 174.60,190.42 C172.60,189.02 170.60,187.57 168.60,186.12 C166.60,184.67 164.60,183.17 162.60,181.70 C160.60,180.23 158.60,178.72 156.60,177.28 C154.60,175.84 152.60,174.39 150.60,173.03 C148.60,171.67 146.37,170.16 144.60,169.10 C142.83,168.04 141.43,167.33 140.00,166.70 C138.57,166.07 137.23,165.60 136.00,165.30 C134.77,165.00 133.62,164.75 132.60,164.90 C131.58,165.05 130.68,165.58 129.90,166.20 C129.12,166.82 128.76,167.27 127.90,168.60 C127.04,169.93 125.56,172.30 124.75,174.20 C123.94,176.10 123.73,177.05 123.05,180.00 C122.37,182.95 121.53,187.33 120.65,191.90 C119.77,196.47 118.69,201.92 117.75,207.40 C116.81,212.88 115.74,219.62 115.00,224.80 C114.26,229.98 113.92,233.63 113.30,238.50 C112.67,243.37 111.59,251.42 111.25,254.00 Z" fill="#ffb3c0" stroke="none"/>
<path d="M111.85,254.13 L112.02,252.85 L112.20,251.56 L112.37,250.27 L112.54,248.98 L112.71,247.70 L112.88,246.41 L113.05,245.12 L113.22,243.83 L113.39,242.54 L113.56,241.26 L113.73,239.97 L113.89,238.68 L114.05,237.38 L114.21,236.09 L114.36,234.80 L114.51,233.51 L114.67,232.22 L114.82,230.93 L114.98,229.64 L115.14,228.36 L115.31,227.08 L115.49,225.79 L115.67,224.51 L115.85,223.23 L116.04,221.95 L116.23,220.66 L116.42,219.38 L116.61,218.10 L116.81,216.82 L117.01,215.53 L117.20,214.25 L117.40,212.97 L117.61,211.69 L117.81,210.41 L118.02,209.13 L118.22,207.84 L118.44,206.57 L118.65,205.29 L118.87,204.01 L119.09,202.73 L119.31,201.45 L119.53,200.18 L119.76,198.90 L119.99,197.62 L120.22,196.34 L120.44,195.06 L120.67,193.79 L120.90,192.51 L121.13,191.23 L121.36,189.95 L121.58,188.67 L121.81,187.39 L122.04,186.11 L122.27,184.84 L122.51,183.57 L122.75,182.30 L123.02,181.04 L123.30,179.79 L123.61,178.57 L123.98,177.38 L124.39,176.17 L124.81,174.93 L125.20,173.69 L125.59,172.45 L125.99,171.21 L126.39,169.98 L126.80,168.76 L127.22,167.55 L127.66,166.35 L128.14,165.20 L128.68,164.10 L129.27,163.10 L129.93,162.30 L130.75,161.61 L131.66,161.01 L132.66,160.55 L133.75,160.24 L134.90,160.15 L136.06,160.38 L137.24,160.69 L138.42,161.06 L139.60,161.48 L140.75,161.95 L141.89,162.47 L143.03,163.02 L144.17,163.60 L145.31,164.20 L146.43,164.80 L147.54,165.43 L148.64,166.09 L149.74,166.75 L150.85,167.43 L151.97,168.10 L153.07,168.77 L154.18,169.45 L155.28,170.13 L156.38,170.81 L157.49,171.49 L158.59,172.18 L159.69,172.86 L160.79,173.55 L161.90,174.23 L163.00,174.92 L164.11,175.61 L165.21,176.29 L166.31,176.98 L167.42,177.66 L168.53,178.34 L169.65,179.02 L170.76,179.69 L171.88,180.36 L173.00,181.03 L174.12,181.69 L175.25,182.35 L176.38,183.00 L177.51,183.65 L178.64,184.29 L179.78,184.93 L180.93,185.56 L182.08,186.18 L183.23,186.80 L184.38,187.41 L185.54,188.01 L186.71,188.60 L187.88,189.19 L189.05,189.76 L190.23,190.33 L191.41,190.89 L192.60,191.44 L193.79,191.98 L194.99,192.51 L196.19,193.03 L197.40,193.53 L198.61,194.03 L199.83,194.51 L201.05,194.98 L202.28,195.44 L203.51,195.89 L204.74,196.33 L205.98,196.76 L207.23,197.17 L208.47,197.57 L209.72,197.96 L210.98,198.34 L212.24,198.70 L213.50,199.05 L214.76,199.39 L216.03,199.72 L217.30,200.03 L218.57,200.34 L219.85,200.63 L221.13,200.91 L222.40,201.19 L223.68,201.45 L224.97,201.70 L226.25,201.94 L227.54,202.18 L228.82,202.40 L230.10,202.62 L231.39,202.84 L232.68,203.04 L233.97,203.24 L235.25,203.44 L236.54,203.64 L237.83,203.83 L239.12,204.01 L240.40,204.20 L241.69,204.39 L242.97,204.57 L244.26,204.76 L245.54,204.95 L246.83,205.14 L248.10,205.33 L249.38,205.54 L250.65,205.75 L251.93,205.97 L253.35,206.10 L254.87,206.03 L256.14,205.78 L257.42,205.52 L258.69,205.27 L259.96,205.01 L261.23,204.77 L262.50,204.52 L263.77,204.29 L265.02,204.07 L266.27,203.87 L267.52,203.71 L268.79,203.61 L270.08,203.56 L271.41,203.51 L272.73,203.42 L274.04,203.29 L275.33,203.14 L276.62,202.98 L277.90,202.83 L279.18,202.68 L280.46,202.56 L281.74,202.46 L283.03,202.37 L284.32,202.29 L285.61,202.22 L286.90,202.16 L288.20,202.10 L289.49,202.05 L290.78,202.00 L292.08,201.96 L293.37,201.93 L294.66,201.91 L295.95,201.90 L297.25,201.90 L298.55,201.90 L299.84,201.91 L301.13,201.93 L302.42,201.96 L303.72,202.00 L305.01,202.05 L306.30,202.10 L307.60,202.16 L308.89,202.22 L310.18,202.29 L311.47,202.37 L312.76,202.46 L314.04,202.56 L315.32,202.68 L316.60,202.83 L317.88,202.98 L319.17,203.14 L320.46,203.29 L321.77,203.42 L323.09,203.51 L324.42,203.56 L325.71,203.61 L326.98,203.71 L328.23,203.87 L329.48,204.07 L330.73,204.29 L332.00,204.52 L333.27,204.77 L334.54,205.01 L335.81,205.27 L337.08,205.52 L338.36,205.78 L339.63,206.03 L341.15,206.10 L342.57,205.97 L343.85,205.75 L345.12,205.54 L346.40,205.33 L347.67,205.14 L348.96,204.95 L350.24,204.76 L351.53,204.57 L352.81,204.39 L354.10,204.20 L355.38,204.01 L356.67,203.83 L357.96,203.64 L359.25,203.44 L360.53,203.24 L361.82,203.04 L363.11,202.84 L364.40,202.62 L365.68,202.40 L366.96,202.18 L368.25,201.94 L369.53,201.70 L370.82,201.45 L372.10,201.19 L373.37,200.91 L374.65,200.63 L375.93,200.34 L377.20,200.03 L378.47,199.72 L379.74,199.39 L381.00,199.05 L382.26,198.70 L383.52,198.34 L384.78,197.96 L386.03,197.57 L387.27,197.17 L388.52,196.76 L389.76,196.33 L390.99,195.89 L392.22,195.44 L393.45,194.98 L394.67,194.51 L395.89,194.03 L397.10,193.53 L398.31,193.03 L399.51,192.51 L400.71,191.98 L401.90,191.44 L403.09,190.89 L404.27,190.33 L405.45,189.76 L406.62,189.19 L407.79,188.60 L408.96,188.01 L410.12,187.41 L411.27,186.80 L412.42,186.18 L413.57,185.56 L414.72,184.93 L415.86,184.29 L416.99,183.65 L418.12,183.00 L419.25,182.35 L420.38,181.69 L421.50,181.03 L422.62,180.36 L423.74,179.69 L424.85,179.02 L425.97,178.34 L427.08,177.66 L428.19,176.98 L429.29,176.29 L430.39,175.61 L431.50,174.92 L432.60,174.23 L433.71,173.55 L434.81,172.86 L435.91,172.18 L437.01,171.49 L438.12,170.81 L439.22,170.13 L440.32,169.45 L441.43,168.77 L442.53,168.10 L443.65,167.43 L444.76,166.75 L445.86,166.09 L446.96,165.43 L448.07,164.80 L449.19,164.20 L450.33,163.60 L451.47,163.02 L452.61,162.47 L453.75,161.95 L454.90,161.48 L456.08,161.06 L457.26,160.69 L458.44,160.38 L459.60,160.15 L460.75,160.24 L461.84,160.55 L462.84,161.01 L463.75,161.61 L464.57,162.30 L465.23,163.10 L465.82,164.10 L466.36,165.20 L466.84,166.35 L467.28,167.55 L467.70,168.76 L468.11,169.98 L468.51,171.21 L468.91,172.45 L469.30,173.69 L469.69,174.93 L470.11,176.17 L470.52,177.38 L470.89,178.57 L471.20,179.79 L471.48,181.04 L471.75,182.30 L471.99,183.57 L472.23,184.84 L472.46,186.11 L472.69,187.39 L472.92,188.67 L473.14,189.95 L473.37,191.23 L473.60,192.51 L473.83,193.79 L474.06,195.06 L474.28,196.34 L474.51,197.62 L474.74,198.90 L474.97,200.18 L475.19,201.45 L475.41,202.73 L475.63,204.01 L475.85,205.29 L476.06,206.57 L476.28,207.84 L476.48,209.13 L476.69,210.41 L476.89,211.69 L477.10,212.97 L477.30,214.25 L477.49,215.53 L477.69,216.82 L477.89,218.10 L478.08,219.38 L478.27,220.66 L478.46,221.95 L478.65,223.23 L478.83,224.51 L479.01,225.79 L479.19,227.08 L479.36,228.36 L479.52,229.64 L479.68,230.93 L479.83,232.22 L479.99,233.51 L480.14,234.80 L480.29,236.09 L480.45,237.38 L480.61,238.68 L480.77,239.97 L480.94,241.26 L481.11,242.54 L481.28,243.83 L481.45,245.12 L481.62,246.41 L481.79,247.70 L481.96,248.98 L482.13,250.27 L482.30,251.56 L482.48,252.85 L482.65,254.13 L484.65,253.87 L484.48,252.58 L484.31,251.29 L484.14,250.00 L483.97,248.72 L483.79,247.43 L483.62,246.14 L483.45,244.85 L483.28,243.57 L483.11,242.28 L482.94,240.99 L482.77,239.71 L482.60,238.42 L482.44,237.14 L482.28,235.85 L482.12,234.56 L481.97,233.27 L481.82,231.98 L481.67,230.69 L481.51,229.40 L481.35,228.11 L481.19,226.81 L481.02,225.52 L480.85,224.23 L480.67,222.94 L480.48,221.65 L480.29,220.37 L480.10,219.08 L479.91,217.79 L479.72,216.51 L479.52,215.22 L479.33,213.94 L479.13,212.65 L478.93,211.37 L478.72,210.08 L478.52,208.80 L478.31,207.51 L478.11,206.23 L477.89,204.95 L477.68,203.66 L477.46,202.38 L477.24,201.10 L477.02,199.82 L476.79,198.54 L476.57,197.26 L476.34,195.98 L476.11,194.70 L475.88,193.42 L475.65,192.14 L475.43,190.86 L475.20,189.58 L474.97,188.31 L474.75,187.03 L474.52,185.75 L474.29,184.46 L474.06,183.18 L473.82,181.89 L473.57,180.61 L473.30,179.32 L473.01,178.02 L472.67,176.71 L472.27,175.45 L471.85,174.22 L471.45,173.00 L471.06,171.76 L470.67,170.52 L470.27,169.28 L469.87,168.03 L469.45,166.79 L469.01,165.54 L468.53,164.28 L467.98,163.02 L467.32,161.74 L466.37,160.51 L465.19,159.55 L463.85,158.84 L462.41,158.42 L460.96,158.27 L459.51,158.27 L458.09,158.34 L456.73,158.57 L455.41,158.91 L454.13,159.31 L452.85,159.77 L451.62,160.30 L450.41,160.86 L449.23,161.45 L448.06,162.05 L446.90,162.66 L445.74,163.30 L444.60,163.97 L443.47,164.64 L442.37,165.31 L441.26,165.99 L440.14,166.66 L439.03,167.34 L437.92,168.02 L436.81,168.70 L435.71,169.39 L434.60,170.07 L433.50,170.76 L432.39,171.44 L431.29,172.13 L430.19,172.82 L429.09,173.50 L427.98,174.18 L426.88,174.87 L425.78,175.55 L424.68,176.23 L423.57,176.90 L422.46,177.58 L421.35,178.24 L420.24,178.91 L419.13,179.57 L418.02,180.23 L416.90,180.87 L415.78,181.52 L414.65,182.16 L413.53,182.79 L412.40,183.42 L411.26,184.04 L410.13,184.65 L408.99,185.25 L407.84,185.85 L406.70,186.45 L405.55,187.03 L404.39,187.60 L403.23,188.17 L402.07,188.73 L400.90,189.27 L399.73,189.81 L398.56,190.34 L397.37,190.85 L396.19,191.36 L395.00,191.85 L393.81,192.34 L392.61,192.81 L391.41,193.27 L390.20,193.72 L388.99,194.16 L387.78,194.59 L386.56,195.01 L385.33,195.42 L384.11,195.81 L382.88,196.19 L381.65,196.56 L380.41,196.92 L379.17,197.26 L377.92,197.59 L376.67,197.92 L375.42,198.23 L374.17,198.53 L372.91,198.82 L371.65,199.10 L370.39,199.37 L369.12,199.63 L367.86,199.88 L366.59,200.12 L365.32,200.35 L364.04,200.57 L362.77,200.80 L361.49,201.01 L360.21,201.21 L358.93,201.41 L357.65,201.61 L356.37,201.81 L355.09,202.00 L353.81,202.18 L352.52,202.37 L351.23,202.56 L349.95,202.74 L348.66,202.93 L347.37,203.11 L346.08,203.30 L344.79,203.50 L343.51,203.71 L342.22,203.93 L341.08,204.23 L340.04,203.95 L338.77,203.70 L337.50,203.44 L336.22,203.19 L334.94,202.94 L333.66,202.70 L332.38,202.46 L331.09,202.24 L329.79,202.04 L328.46,201.88 L327.13,201.78 L325.80,201.73 L324.50,201.69 L323.23,201.59 L321.97,201.46 L320.69,201.30 L319.41,201.15 L318.11,200.99 L316.81,200.85 L315.51,200.73 L314.20,200.63 L312.89,200.55 L311.58,200.47 L310.28,200.40 L308.98,200.34 L307.68,200.29 L306.38,200.23 L305.08,200.19 L303.77,200.15 L302.47,200.12 L301.16,200.11 L299.85,200.10 L298.55,200.10 L297.25,200.10 L295.95,200.10 L294.65,200.10 L293.34,200.11 L292.03,200.12 L290.73,200.15 L289.42,200.19 L288.12,200.23 L286.82,200.29 L285.52,200.34 L284.22,200.40 L282.92,200.47 L281.61,200.55 L280.30,200.63 L278.99,200.73 L277.69,200.85 L276.39,200.99 L275.09,201.15 L273.81,201.30 L272.53,201.46 L271.27,201.59 L270.00,201.69 L268.70,201.73 L267.37,201.78 L266.04,201.88 L264.71,202.04 L263.41,202.24 L262.12,202.46 L260.84,202.70 L259.56,202.94 L258.28,203.19 L257.00,203.44 L255.73,203.70 L254.46,203.95 L253.42,204.23 L252.28,203.93 L250.99,203.71 L249.71,203.50 L248.42,203.30 L247.13,203.11 L245.84,202.93 L244.55,202.74 L243.27,202.56 L241.98,202.37 L240.69,202.18 L239.41,202.00 L238.13,201.81 L236.85,201.61 L235.57,201.41 L234.29,201.21 L233.01,201.01 L231.73,200.80 L230.46,200.57 L229.18,200.35 L227.91,200.12 L226.64,199.88 L225.38,199.63 L224.11,199.37 L222.85,199.10 L221.59,198.82 L220.33,198.53 L219.08,198.23 L217.83,197.92 L216.58,197.59 L215.33,197.26 L214.09,196.92 L212.85,196.56 L211.62,196.19 L210.39,195.81 L209.17,195.42 L207.94,195.01 L206.72,194.59 L205.51,194.16 L204.30,193.72 L203.09,193.27 L201.89,192.81 L200.69,192.34 L199.50,191.85 L198.31,191.36 L197.13,190.85 L195.94,190.34 L194.77,189.81 L193.60,189.27 L192.43,188.73 L191.27,188.17 L190.11,187.60 L188.95,187.03 L187.80,186.45 L186.66,185.85 L185.51,185.25 L184.37,184.65 L183.24,184.04 L182.10,183.42 L180.97,182.79 L179.85,182.16 L178.72,181.52 L177.60,180.87 L176.48,180.23 L175.37,179.57 L174.26,178.91 L173.15,178.24 L172.04,177.58 L170.93,176.90 L169.82,176.23 L168.72,175.55 L167.62,174.87 L166.52,174.18 L165.41,173.50 L164.31,172.82 L163.21,172.13 L162.11,171.44 L161.00,170.76 L159.90,170.07 L158.79,169.39 L157.69,168.70 L156.58,168.02 L155.47,167.34 L154.36,166.66 L153.24,165.99 L152.13,165.31 L151.03,164.64 L149.90,163.97 L148.76,163.30 L147.60,162.66 L146.44,162.05 L145.27,161.45 L144.09,160.86 L142.88,160.30 L141.65,159.77 L140.37,159.31 L139.09,158.91 L137.77,158.57 L136.41,158.34 L134.99,158.27 L133.54,158.27 L132.09,158.42 L130.65,158.84 L129.31,159.55 L128.13,160.51 L127.18,161.74 L126.52,163.02 L125.97,164.28 L125.49,165.54 L125.05,166.79 L124.63,168.03 L124.23,169.28 L123.83,170.52 L123.44,171.76 L123.05,173.00 L122.65,174.22 L122.23,175.45 L121.83,176.71 L121.49,178.02 L121.20,179.32 L120.93,180.61 L120.68,181.89 L120.44,183.18 L120.21,184.46 L119.98,185.75 L119.75,187.03 L119.53,188.31 L119.30,189.58 L119.07,190.86 L118.85,192.14 L118.62,193.42 L118.39,194.70 L118.16,195.98 L117.93,197.26 L117.71,198.54 L117.48,199.82 L117.26,201.10 L117.04,202.38 L116.82,203.66 L116.61,204.95 L116.39,206.23 L116.19,207.51 L115.98,208.80 L115.78,210.08 L115.57,211.37 L115.37,212.65 L115.17,213.94 L114.98,215.22 L114.78,216.51 L114.59,217.79 L114.40,219.08 L114.21,220.37 L114.02,221.65 L113.83,222.94 L113.65,224.23 L113.48,225.52 L113.31,226.81 L113.15,228.11 L112.99,229.40 L112.83,230.69 L112.68,231.98 L112.53,233.27 L112.38,234.56 L112.22,235.85 L112.06,237.14 L111.90,238.42 L111.73,239.71 L111.56,240.99 L111.39,242.28 L111.22,243.57 L111.05,244.85 L110.88,246.14 L110.71,247.43 L110.53,248.72 L110.36,250.00 L110.19,251.29 L110.02,252.58 L109.85,253.87Z" fill="#ff0000" stroke="none"/>
<path d="M112.25,254.13 L112.42,252.85 L112.59,251.56 L112.77,250.27 L112.94,248.99 L113.11,247.70 L113.28,246.41 L113.45,245.12 L113.62,243.84 L113.79,242.55 L113.96,241.26 L114.13,239.97 L114.29,238.68 L114.45,237.39 L114.61,236.10 L114.76,234.81 L114.91,233.51 L115.06,232.23 L115.21,230.94 L115.37,229.65 L115.53,228.37 L115.71,227.09 L115.88,225.81 L116.07,224.53 L116.26,223.25 L116.45,221.97 L116.64,220.68 L116.84,219.40 L117.04,218.12 L117.24,216.84 L117.45,215.56 L117.65,214.28 L117.86,213.00 L118.07,211.72 L118.29,210.44 L118.50,209.17 L118.72,207.89 L118.94,206.61 L119.17,205.34 L119.40,204.06 L119.64,202.79 L119.87,201.52 L120.12,200.24 L120.36,198.97 L120.60,197.70 L120.85,196.42 L121.09,195.15 L121.34,193.87 L121.59,192.60 L121.84,191.32 L122.08,190.05 L122.33,188.77 L122.58,187.50 L122.83,186.23 L123.08,184.96 L123.34,183.69 L123.61,182.43 L123.89,181.17 L124.18,179.92 L124.48,178.66 L124.80,177.43 L125.18,176.26 L125.64,175.12 L126.15,174.01 L126.73,172.92 L127.36,171.82 L128.02,170.74 L128.70,169.66 L129.39,168.62 L130.08,167.75 L130.87,167.04 L131.76,166.42 L132.64,165.96 L133.68,165.84 L134.82,166.12 L136.01,166.44 L137.18,166.82 L138.34,167.27 L139.48,167.77 L140.62,168.31 L141.74,168.88 L142.84,169.50 L143.93,170.14 L145.01,170.81 L146.08,171.50 L147.16,172.21 L148.23,172.93 L149.30,173.66 L150.36,174.39 L151.42,175.12 L152.48,175.87 L153.53,176.62 L154.58,177.37 L155.63,178.13 L156.68,178.89 L157.72,179.65 L158.76,180.42 L159.80,181.20 L160.85,181.97 L161.89,182.74 L162.94,183.51 L163.98,184.28 L165.02,185.06 L166.07,185.83 L167.12,186.60 L168.17,187.36 L169.23,188.13 L170.28,188.89 L171.34,189.65 L172.40,190.41 L173.47,191.16 L174.54,191.90 L175.61,192.64 L176.68,193.38 L177.76,194.11 L178.85,194.84 L179.94,195.56 L181.04,196.27 L182.13,196.98 L183.24,197.68 L184.35,198.37 L185.47,199.05 L186.59,199.72 L187.72,200.38 L188.85,201.04 L189.99,201.68 L191.14,202.31 L192.30,202.93 L193.46,203.54 L194.63,204.13 L195.80,204.72 L196.98,205.29 L198.17,205.85 L199.36,206.39 L200.56,206.92 L201.77,207.44 L202.98,207.94 L204.20,208.43 L205.42,208.90 L206.65,209.36 L207.89,209.80 L209.13,210.23 L210.37,210.64 L211.62,211.04 L212.88,211.42 L214.14,211.79 L215.40,212.14 L216.67,212.48 L217.94,212.80 L219.21,213.11 L220.49,213.40 L221.76,213.69 L223.04,213.96 L224.33,214.22 L225.61,214.46 L226.89,214.70 L228.18,214.94 L229.46,215.16 L230.75,215.37 L232.04,215.58 L233.32,215.78 L234.61,215.98 L235.89,216.18 L237.18,216.37 L238.46,216.57 L239.74,216.77 L241.02,216.97 L242.31,217.17 L243.59,217.37 L244.86,217.59 L246.12,217.82 L247.38,218.06 L248.65,218.32 L249.92,218.58 L251.19,218.84 L252.46,219.10 L254.01,219.14 L255.35,219.00 L256.64,218.84 L257.93,218.68 L259.22,218.52 L260.51,218.37 L261.80,218.21 L263.08,218.06 L264.37,217.90 L265.66,217.75 L266.94,217.60 L268.22,217.47 L269.51,217.34 L270.81,217.21 L272.11,217.08 L273.40,216.95 L274.70,216.80 L275.98,216.65 L277.27,216.50 L278.55,216.36 L279.84,216.23 L281.12,216.11 L282.41,215.99 L283.70,215.89 L284.99,215.78 L286.28,215.69 L287.57,215.60 L288.86,215.51 L290.15,215.43 L291.43,215.37 L292.71,215.33 L294.00,215.30 L295.29,215.30 L296.59,215.30 L297.89,215.30 L299.19,215.30 L300.48,215.30 L301.77,215.33 L303.06,215.37 L304.34,215.43 L305.63,215.51 L306.91,215.59 L308.20,215.69 L309.49,215.78 L310.78,215.89 L312.07,215.99 L313.36,216.10 L314.65,216.23 L315.93,216.36 L317.21,216.50 L318.50,216.65 L319.79,216.80 L321.08,216.94 L322.38,217.08 L323.68,217.21 L324.97,217.34 L326.26,217.47 L327.55,217.60 L328.83,217.75 L330.12,217.90 L331.40,218.05 L332.69,218.21 L333.98,218.36 L335.27,218.52 L336.55,218.68 L337.84,218.84 L339.13,218.99 L340.48,219.11 L342.02,219.09 L343.31,218.84 L344.58,218.58 L345.85,218.32 L347.12,218.06 L348.38,217.82 L349.64,217.59 L350.91,217.37 L352.19,217.17 L353.48,216.97 L354.76,216.77 L356.04,216.57 L357.32,216.37 L358.61,216.18 L359.89,215.98 L361.18,215.78 L362.46,215.58 L363.75,215.37 L365.04,215.16 L366.32,214.94 L367.61,214.70 L368.89,214.46 L370.17,214.22 L371.46,213.96 L372.74,213.69 L374.01,213.40 L375.29,213.11 L376.56,212.80 L377.83,212.48 L379.10,212.14 L380.36,211.79 L381.62,211.42 L382.88,211.04 L384.13,210.64 L385.37,210.23 L386.61,209.80 L387.85,209.36 L389.08,208.90 L390.30,208.43 L391.52,207.94 L392.73,207.44 L393.94,206.92 L395.14,206.39 L396.33,205.85 L397.52,205.29 L398.70,204.72 L399.87,204.13 L401.04,203.54 L402.20,202.93 L403.36,202.31 L404.51,201.68 L405.65,201.04 L406.78,200.38 L407.91,199.72 L409.03,199.05 L410.15,198.37 L411.26,197.68 L412.37,196.98 L413.46,196.27 L414.56,195.56 L415.65,194.84 L416.74,194.11 L417.82,193.38 L418.89,192.64 L419.96,191.90 L421.03,191.16 L422.10,190.41 L423.16,189.65 L424.22,188.89 L425.27,188.13 L426.33,187.36 L427.38,186.60 L428.43,185.83 L429.48,185.06 L430.52,184.28 L431.56,183.51 L432.61,182.74 L433.65,181.97 L434.70,181.20 L435.74,180.42 L436.78,179.65 L437.82,178.89 L438.87,178.13 L439.92,177.37 L440.97,176.62 L442.02,175.87 L443.08,175.12 L444.14,174.39 L445.20,173.66 L446.27,172.93 L447.34,172.21 L448.42,171.50 L449.49,170.81 L450.57,170.14 L451.66,169.50 L452.76,168.88 L453.88,168.31 L455.02,167.77 L456.16,167.27 L457.32,166.82 L458.49,166.44 L459.68,166.12 L460.82,165.84 L461.86,165.96 L462.74,166.42 L463.63,167.04 L464.42,167.75 L465.11,168.62 L465.80,169.66 L466.48,170.74 L467.14,171.82 L467.77,172.92 L468.35,174.01 L468.86,175.12 L469.32,176.26 L469.70,177.43 L470.02,178.66 L470.32,179.92 L470.61,181.17 L470.89,182.43 L471.16,183.69 L471.42,184.96 L471.67,186.23 L471.92,187.50 L472.17,188.77 L472.42,190.05 L472.66,191.32 L472.91,192.60 L473.16,193.87 L473.41,195.15 L473.65,196.42 L473.90,197.70 L474.14,198.97 L474.38,200.24 L474.63,201.52 L474.86,202.79 L475.10,204.06 L475.33,205.34 L475.56,206.61 L475.78,207.89 L476.00,209.17 L476.21,210.44 L476.43,211.72 L476.64,213.00 L476.85,214.28 L477.05,215.56 L477.26,216.84 L477.46,218.12 L477.66,219.40 L477.86,220.68 L478.05,221.97 L478.24,223.25 L478.43,224.53 L478.62,225.81 L478.79,227.09 L478.97,228.37 L479.13,229.65 L479.29,230.94 L479.44,232.23 L479.59,233.51 L479.74,234.81 L479.89,236.10 L480.05,237.39 L480.21,238.68 L480.37,239.97 L480.54,241.26 L480.71,242.55 L480.88,243.84 L481.05,245.12 L481.22,246.41 L481.39,247.70 L481.56,248.99 L481.73,250.27 L481.91,251.56 L482.08,252.85 L482.25,254.13 L484.25,253.87 L484.08,252.58 L483.91,251.29 L483.74,250.01 L483.57,248.72 L483.39,247.43 L483.22,246.15 L483.05,244.86 L482.88,243.57 L482.71,242.29 L482.54,241.00 L482.37,239.71 L482.21,238.43 L482.04,237.14 L481.88,235.86 L481.73,234.57 L481.58,233.28 L481.43,231.99 L481.27,230.70 L481.12,229.41 L480.96,228.12 L480.80,226.82 L480.63,225.53 L480.45,224.24 L480.26,222.95 L480.07,221.66 L479.88,220.38 L479.69,219.09 L479.49,217.81 L479.29,216.52 L479.09,215.24 L478.88,213.95 L478.68,212.67 L478.47,211.39 L478.26,210.10 L478.04,208.82 L477.83,207.54 L477.61,206.25 L477.38,204.97 L477.16,203.69 L476.92,202.41 L476.69,201.13 L476.45,199.85 L476.21,198.58 L475.97,197.30 L475.72,196.02 L475.48,194.75 L475.23,193.47 L474.98,192.20 L474.74,190.92 L474.49,189.65 L474.24,188.37 L474.00,187.10 L473.75,185.82 L473.50,184.54 L473.24,183.27 L472.98,181.99 L472.71,180.71 L472.43,179.43 L472.13,178.16 L471.83,176.86 L471.48,175.55 L471.04,174.25 L470.51,172.98 L469.91,171.76 L469.27,170.59 L468.59,169.45 L467.90,168.32 L467.17,167.19 L466.28,166.01 L465.12,165.01 L463.80,164.26 L462.23,163.90 L460.68,163.92 L459.26,164.04 L457.93,164.31 L456.61,164.66 L455.32,165.10 L454.06,165.60 L452.84,166.14 L451.64,166.73 L450.46,167.36 L449.31,168.02 L448.17,168.71 L447.06,169.41 L445.96,170.13 L444.88,170.86 L443.80,171.59 L442.72,172.32 L441.64,173.07 L440.57,173.82 L439.51,174.57 L438.45,175.33 L437.40,176.09 L436.34,176.86 L435.29,177.63 L434.24,178.40 L433.20,179.17 L432.16,179.95 L431.11,180.72 L430.07,181.49 L429.02,182.26 L427.98,183.03 L426.94,183.80 L425.89,184.57 L424.85,185.33 L423.80,186.09 L422.75,186.85 L421.70,187.61 L420.65,188.36 L419.59,189.10 L418.53,189.85 L417.47,190.58 L416.40,191.32 L415.34,192.04 L414.27,192.76 L413.19,193.47 L412.11,194.18 L411.03,194.88 L409.94,195.58 L408.85,196.26 L407.75,196.94 L406.65,197.60 L405.54,198.26 L404.43,198.90 L403.31,199.54 L402.18,200.17 L401.06,200.78 L399.92,201.38 L398.78,201.98 L397.63,202.56 L396.48,203.13 L395.32,203.68 L394.16,204.22 L392.98,204.75 L391.81,205.27 L390.63,205.77 L389.44,206.26 L388.24,206.73 L387.04,207.19 L385.84,207.63 L384.63,208.07 L383.41,208.48 L382.19,208.89 L380.97,209.27 L379.74,209.65 L378.50,210.00 L377.27,210.35 L376.02,210.68 L374.78,211.00 L373.53,211.30 L372.27,211.59 L371.01,211.87 L369.75,212.14 L368.49,212.39 L367.22,212.64 L365.95,212.88 L364.68,213.11 L363.41,213.33 L362.13,213.54 L360.85,213.75 L359.57,213.95 L358.29,214.15 L357.01,214.35 L355.73,214.54 L354.44,214.74 L353.16,214.94 L351.88,215.14 L350.59,215.34 L349.30,215.54 L348.00,215.76 L346.72,215.99 L345.43,216.24 L344.16,216.50 L342.88,216.76 L341.64,217.03 L340.60,217.20 L339.38,217.00 L338.09,216.85 L336.80,216.69 L335.51,216.53 L334.22,216.38 L332.93,216.22 L331.64,216.07 L330.35,215.92 L329.05,215.77 L327.76,215.63 L326.46,215.50 L325.16,215.38 L323.87,215.25 L322.59,215.11 L321.30,214.97 L320.02,214.82 L318.73,214.67 L317.43,214.53 L316.13,214.39 L314.83,214.27 L313.53,214.16 L312.23,214.06 L310.94,213.96 L309.64,213.86 L308.34,213.77 L307.04,213.69 L305.73,213.61 L304.42,213.56 L303.11,213.52 L301.80,213.50 L300.49,213.49 L299.19,213.50 L297.89,213.50 L296.59,213.50 L295.30,213.50 L293.99,213.49 L292.68,213.50 L291.37,213.52 L290.06,213.56 L288.75,213.62 L287.45,213.69 L286.15,213.77 L284.85,213.86 L283.55,213.96 L282.25,214.06 L280.95,214.16 L279.65,214.28 L278.35,214.40 L277.05,214.53 L275.76,214.67 L274.47,214.82 L273.18,214.97 L271.90,215.12 L270.61,215.25 L269.32,215.38 L268.03,215.51 L266.73,215.63 L265.43,215.77 L264.14,215.92 L262.85,216.07 L261.56,216.22 L260.27,216.38 L258.98,216.53 L257.69,216.69 L256.40,216.85 L255.11,217.01 L253.89,217.23 L252.89,217.02 L251.62,216.76 L250.34,216.50 L249.07,216.24 L247.78,215.99 L246.50,215.76 L245.20,215.54 L243.91,215.34 L242.62,215.14 L241.34,214.94 L240.06,214.74 L238.77,214.54 L237.49,214.35 L236.21,214.15 L234.93,213.95 L233.65,213.75 L232.37,213.54 L231.09,213.33 L229.82,213.11 L228.55,212.88 L227.28,212.64 L226.01,212.39 L224.75,212.14 L223.49,211.87 L222.23,211.59 L220.97,211.30 L219.72,211.00 L218.48,210.68 L217.23,210.35 L216.00,210.00 L214.76,209.65 L213.53,209.27 L212.31,208.89 L211.09,208.48 L209.87,208.07 L208.66,207.63 L207.46,207.19 L206.26,206.73 L205.06,206.26 L203.87,205.77 L202.69,205.27 L201.52,204.75 L200.34,204.22 L199.18,203.68 L198.02,203.13 L196.87,202.56 L195.72,201.98 L194.58,201.38 L193.44,200.78 L192.32,200.17 L191.19,199.54 L190.07,198.90 L188.96,198.26 L187.85,197.60 L186.75,196.94 L185.65,196.26 L184.56,195.58 L183.47,194.88 L182.39,194.18 L181.31,193.47 L180.23,192.76 L179.16,192.04 L178.10,191.32 L177.03,190.58 L175.97,189.85 L174.91,189.10 L173.85,188.36 L172.80,187.61 L171.75,186.85 L170.70,186.09 L169.65,185.33 L168.61,184.57 L167.56,183.80 L166.52,183.03 L165.48,182.26 L164.43,181.49 L163.39,180.72 L162.34,179.95 L161.30,179.17 L160.26,178.40 L159.21,177.63 L158.16,176.86 L157.10,176.09 L156.05,175.33 L154.99,174.57 L153.93,173.82 L152.86,173.07 L151.78,172.32 L150.70,171.59 L149.62,170.86 L148.54,170.13 L147.44,169.41 L146.33,168.71 L145.19,168.02 L144.04,167.36 L142.86,166.73 L141.66,166.14 L140.44,165.60 L139.18,165.10 L137.89,164.66 L136.57,164.31 L135.24,164.04 L133.82,163.92 L132.27,163.90 L130.70,164.26 L129.38,165.01 L128.22,166.01 L127.33,167.19 L126.60,168.32 L125.91,169.45 L125.23,170.59 L124.59,171.76 L123.99,172.98 L123.46,174.25 L123.02,175.55 L122.67,176.86 L122.37,178.16 L122.07,179.43 L121.79,180.71 L121.52,181.99 L121.26,183.27 L121.00,184.54 L120.75,185.82 L120.50,187.10 L120.26,188.37 L120.01,189.65 L119.76,190.92 L119.52,192.20 L119.27,193.47 L119.02,194.75 L118.78,196.02 L118.53,197.30 L118.29,198.58 L118.05,199.85 L117.81,201.13 L117.58,202.41 L117.34,203.69 L117.12,204.97 L116.89,206.25 L116.67,207.54 L116.46,208.82 L116.24,210.10 L116.03,211.39 L115.82,212.67 L115.62,213.95 L115.41,215.24 L115.21,216.52 L115.01,217.81 L114.81,219.09 L114.62,220.38 L114.43,221.66 L114.24,222.95 L114.05,224.24 L113.87,225.53 L113.70,226.82 L113.54,228.12 L113.38,229.41 L113.23,230.70 L113.07,231.99 L112.92,233.28 L112.77,234.57 L112.62,235.86 L112.46,237.14 L112.29,238.43 L112.13,239.71 L111.96,241.00 L111.79,242.29 L111.62,243.57 L111.45,244.86 L111.28,246.15 L111.11,247.43 L110.93,248.72 L110.76,250.01 L110.59,251.29 L110.42,252.58 L110.25,253.87Z" fill="#ff0000" stroke="none"/>
</g>
<text x="97.4" y="365.55" text-anchor="end" font-size="25" letter-spacing="-0.45">0</text>
<text x="97.4" y="299.35" text-anchor="end" font-size="25" letter-spacing="-0.45">200</text>
<text x="97.4" y="233.15" text-anchor="end" font-size="25" letter-spacing="-0.45">400</text>
<text x="97.4" y="166.95" text-anchor="end" font-size="25" letter-spacing="-0.45">600</text>
<text x="97.4" y="100.75" text-anchor="end" font-size="25" letter-spacing="-0.45">800</text>
<text x="97.4" y="34.55" text-anchor="end" font-size="25" letter-spacing="-0.45">1000</text>
<text x="161.59" y="388.6" text-anchor="middle" font-size="25" letter-spacing="-0.45">-4</text>
<text x="229.27" y="388.6" text-anchor="middle" font-size="25" letter-spacing="-0.45">-2</text>
<text x="297.25" y="388.6" text-anchor="middle" font-size="25" letter-spacing="-0.45">0</text>
<text x="364.93" y="388.6" text-anchor="middle" font-size="25" letter-spacing="-0.45">2</text>
<text x="432.61" y="388.6" text-anchor="middle" font-size="25" letter-spacing="-0.45">4</text>

<!-- data point -->
<path d="M297.35,201.4 V232.6" stroke="#000" stroke-width="0.8" fill="none"/><path d="M293.1,201.4 h8.6 M293.1,232.6 h8.6" stroke="#000" stroke-width="0.95" fill="none"/>
<path d="M297.35,209.9 L303.1,220.7 H291.6 Z" fill="#000"/>
<!-- legend -->
<path d="M308.4,266.3 L313.9,276.3 H302.9 Z" fill="#000"/>
<path d="M321.2,293.7 H353.8" stroke="#008000" stroke-width="2.7" stroke-dasharray="1.1 2.2 10.3 2 1.1 2 10.3 2 1.6 9" fill="none"/>
<path d="M321.2,314.8 H353.8" stroke="#0000ff" stroke-width="2.7" stroke-dasharray="10.9 2.4" fill="none"/>
<path d="M321.2,336.4 H353.8" stroke="#ff0000" stroke-width="2.7" fill="none"/>
<g font-size="18.2">
<text x="362.2" y="278.3" textLength="51.0" lengthAdjust="spacingAndGlyphs">ALICE</text>
<text x="362.1" y="299.5" textLength="74.95" lengthAdjust="spacingAndGlyphs">VMD-GM</text>
<text x="362.1" y="320.9" textLength="88.05" lengthAdjust="spacingAndGlyphs">mVMD-GM</text>
<text x="362.1" y="342.3" textLength="101.35" lengthAdjust="spacingAndGlyphs">mVMD-GGM</text>
</g>
<!-- annotations -->
<text x="126.4" y="55.2" font-size="18.3" textLength="130.0" lengthAdjust="spacingAndGlyphs">Pb+Pb-&gt;Pb+<tspan font-style="italic">ρ</tspan>+Pb</text>
<path d="M271.4,52.6 L272.9,51.9 L276.4,60.3 L283.6,43.1 H315.4" stroke="#222" stroke-width="0.8" fill="none"/>
<text x="285.9" y="54.6" font-size="16.3" font-style="italic" fill="#4a4a4a" textLength="7.0" lengthAdjust="spacingAndGlyphs">s</text>
<text x="294.2" y="58.2" font-size="10" font-style="italic" fill="#4a4a4a" textLength="19.8" lengthAdjust="spacingAndGlyphs">NN</text>
<text x="315.5" y="55.3" font-size="18.3" textLength="75.4" lengthAdjust="spacingAndGlyphs">=2.76 TeV</text>
<!-- axis titles -->
<text x="297.4" y="416.5" font-size="28.6" text-anchor="middle">y</text>
<g transform="translate(30.6,253.0) rotate(-90)" font-size="28.6">
<text x="0.3" y="0">d</text>
<text x="17.0" y="0" font-style="italic">σ</text>
<text x="33.0" y="0">/</text>
<text x="41.3" y="0">d</text>
<text x="55.4" y="0">y</text>
<text x="69.4" y="0">,</text>
<text x="83.0" y="0">m</text>
<text x="107.2" y="0">b</text>
</g>
</svg>
</body></html>
